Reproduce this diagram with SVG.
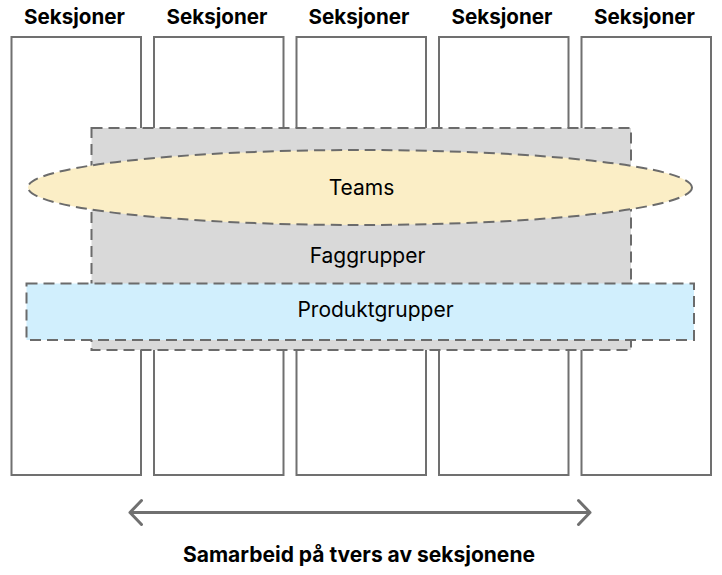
<svg xmlns="http://www.w3.org/2000/svg" width="722" height="575" viewBox="0 0 722 575">
<style>
.col{fill:#ffffff;stroke:#707070;stroke-width:2}
.dash{stroke:#6b6b6b;stroke-width:2;stroke-dasharray:11 6}
.h{font-family:Inter,"Liberation Sans",sans-serif;font-weight:700;font-size:20.6px;fill:#000;text-anchor:middle}
.l{font-family:Inter,"Liberation Sans",sans-serif;font-weight:400;font-size:21px;fill:#000;text-anchor:middle}
</style>
<rect width="722" height="575" fill="#ffffff"/>
<g id="seksjon1"><rect class="col" x="11.5" y="37" width="129.5" height="438"/><text class="h" x="74.5" y="23.5">Seksjoner</text></g>
<g id="seksjon2"><rect class="col" x="154" y="37" width="129.5" height="438"/><text class="h" x="217" y="23.5">Seksjoner</text></g>
<g id="seksjon3"><rect class="col" x="296.5" y="37" width="129.5" height="438"/><text class="h" x="359" y="23.5">Seksjoner</text></g>
<g id="seksjon4"><rect class="col" x="439" y="37" width="129.5" height="438"/><text class="h" x="502" y="23.5">Seksjoner</text></g>
<g id="seksjon5"><rect class="col" x="581.5" y="37" width="129.5" height="438"/><text class="h" x="644.5" y="23.5">Seksjoner</text></g>
<g id="faggrupper"><rect class="dash" x="91.5" y="128" width="539.5" height="222" fill="#d9d9d9"/><text class="l" x="367.5" y="262.5">Faggrupper</text></g>
<g id="teams"><ellipse class="dash" cx="360" cy="187.5" rx="332" ry="37.5" fill="#fbeec6"/><text class="l" x="361.5" y="195">Teams</text></g>
<g id="produktgrupper"><rect class="dash" x="26.5" y="283.5" width="667.5" height="56.5" fill="#d1effd"/><text class="l" x="375.5" y="316.5">Produktgrupper</text></g>
<g id="connectors">
<path d="M130 512.5H590M141.5 500.5L130 512.5L141.5 524.5M578.5 500.5L590 512.5L578.5 524.5" fill="none" stroke="#707070" stroke-width="3" stroke-linecap="round" stroke-linejoin="round"/>
</g>
<text class="h" x="359" y="561.5" style="font-size:21px">Samarbeid på tvers av seksjonene</text>
</svg>
